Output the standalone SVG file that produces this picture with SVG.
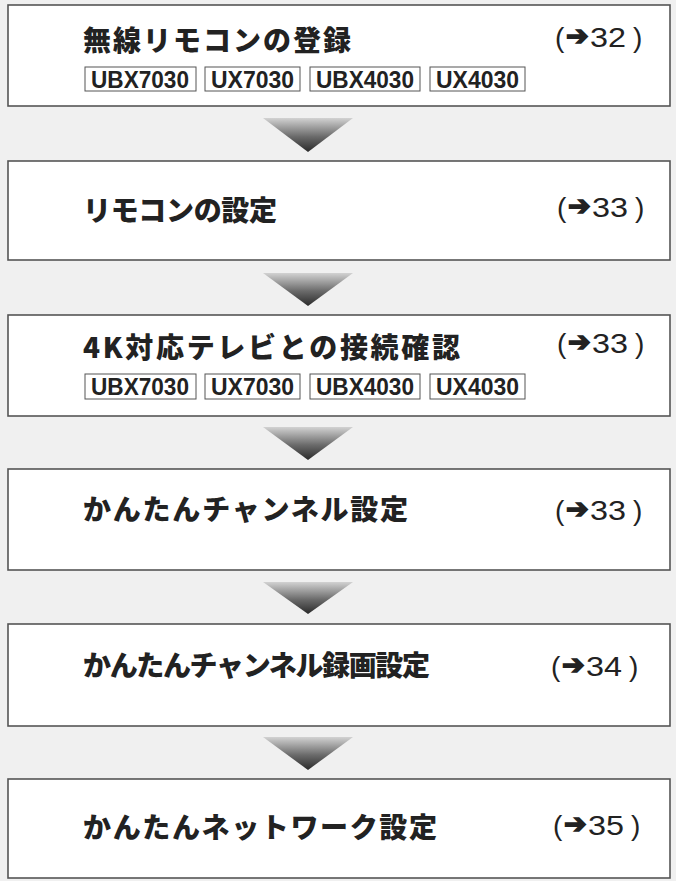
<svg xmlns="http://www.w3.org/2000/svg" width="676" height="881" viewBox="0 0 676 881">
<defs>
<linearGradient id="tri" x1="0" y1="0" x2="0" y2="1">
<stop offset="0" stop-color="#d2d2d2"/>
<stop offset="0.55" stop-color="#6a6a6a"/>
<stop offset="1" stop-color="#2a2a2a"/>
</linearGradient>
<style>
.box{fill:#ffffff;stroke:#555555;stroke-width:1.6}
.title{font-family:"Noto Sans CJK JP","Noto Sans CJK SC",sans-serif;font-weight:900;font-size:28px;fill:#222222}
.ref{font-family:"Liberation Sans",Arial,sans-serif;font-size:28px;fill:#222222}
.arr{font-family:"DejaVu Sans",sans-serif;font-weight:bold;font-size:27px;fill:#222222;stroke:#222222;stroke-width:1.6;stroke-linejoin:miter}
.tag{fill:#ffffff;stroke:#555555;stroke-width:1}
.tagt{font-family:"Liberation Sans",Arial,sans-serif;font-weight:bold;font-size:23px;fill:#222222}
.tri{fill:url(#tri)}
</style>
</defs>
<rect x="0" y="0" width="676" height="881" fill="#f0f0f0"/>

<g id="connectors">
<polygon class="tri" points="263,118 353,118 308,152"/>
<polygon class="tri" points="263,273 353,273 308,306"/>
<polygon class="tri" points="263,427 353,427 308,460"/>
<polygon class="tri" points="263,582 353,582 308,614"/>
<polygon class="tri" points="263,737 353,737 308,770"/>
</g>

<g id="node1">
<rect class="box" x="8" y="5" width="662" height="101"/>
<text class="title" x="83" y="51" textLength="268" lengthAdjust="spacing">無線リモコンの登録</text>
<g transform="translate(0,-473)">
<text class="ref" x="555" y="520">(</text>
<text class="arr" x="566" y="518">➔</text>
<text class="ref" x="590" y="520" textLength="36" lengthAdjust="spacingAndGlyphs">32</text>
<text class="ref" x="633" y="520">)</text>
</g>
<rect class="tag" x="85" y="67" width="111" height="24"/>
<text class="tagt" x="91" y="88" textLength="98" lengthAdjust="spacingAndGlyphs">UBX7030</text>
<rect class="tag" x="205" y="67" width="95" height="24"/>
<text class="tagt" x="211" y="88" textLength="83" lengthAdjust="spacingAndGlyphs">UX7030</text>
<rect class="tag" x="310" y="67" width="110" height="24"/>
<text class="tagt" x="316" y="88" textLength="98" lengthAdjust="spacingAndGlyphs">UBX4030</text>
<rect class="tag" x="430" y="67" width="95" height="24"/>
<text class="tagt" x="436" y="88" textLength="83" lengthAdjust="spacingAndGlyphs">UX4030</text>
</g>

<g id="node2">
<rect class="box" x="8" y="161" width="662" height="99"/>
<text class="title" x="83" y="221" textLength="194" lengthAdjust="spacing">リモコンの設定</text>
<g transform="translate(2,-303)">
<text class="ref" x="555" y="520">(</text>
<text class="arr" x="566" y="518">➔</text>
<text class="ref" x="590" y="520" textLength="36" lengthAdjust="spacingAndGlyphs">33</text>
<text class="ref" x="633" y="520">)</text>
</g>
</g>

<g id="node3">
<rect class="box" x="8" y="315" width="662" height="101"/>
<text class="title" x="83" y="358" textLength="377" lengthAdjust="spacing">4K対応テレビとの接続確認</text>
<g transform="translate(2,-167)">
<text class="ref" x="555" y="520">(</text>
<text class="arr" x="566" y="518">➔</text>
<text class="ref" x="590" y="520" textLength="36" lengthAdjust="spacingAndGlyphs">33</text>
<text class="ref" x="633" y="520">)</text>
</g>
<rect class="tag" x="85" y="374" width="111" height="25"/>
<text class="tagt" x="91" y="395" textLength="98" lengthAdjust="spacingAndGlyphs">UBX7030</text>
<rect class="tag" x="205" y="374" width="95" height="25"/>
<text class="tagt" x="211" y="395" textLength="83" lengthAdjust="spacingAndGlyphs">UX7030</text>
<rect class="tag" x="310" y="374" width="110" height="25"/>
<text class="tagt" x="316" y="395" textLength="98" lengthAdjust="spacingAndGlyphs">UBX4030</text>
<rect class="tag" x="430" y="374" width="95" height="25"/>
<text class="tagt" x="436" y="395" textLength="83" lengthAdjust="spacingAndGlyphs">UX4030</text>
</g>

<g id="node4">
<rect class="box" x="8" y="469" width="662" height="101"/>
<text class="title" x="83" y="520" textLength="325" lengthAdjust="spacing">かんたんチャンネル設定</text>
<g transform="translate(0,0)">
<text class="ref" x="555" y="520">(</text>
<text class="arr" x="566" y="518">➔</text>
<text class="ref" x="590" y="520" textLength="36" lengthAdjust="spacingAndGlyphs">33</text>
<text class="ref" x="633" y="520">)</text>
</g>
</g>

<g id="node5">
<rect class="box" x="8" y="624" width="662" height="102"/>
<text class="title" x="83" y="676" textLength="347" lengthAdjust="spacing">かんたんチャンネル録画設定</text>
<g transform="translate(-4,156)">
<text class="ref" x="555" y="520">(</text>
<text class="arr" x="566" y="518">➔</text>
<text class="ref" x="590" y="520" textLength="36" lengthAdjust="spacingAndGlyphs">34</text>
<text class="ref" x="633" y="520">)</text>
</g>
</g>

<g id="node6">
<rect class="box" x="8" y="779" width="662" height="99"/>
<text class="title" x="83" y="838" textLength="354" lengthAdjust="spacing">かんたんネットワーク設定</text>
<g transform="translate(-2,315)">
<text class="ref" x="555" y="520">(</text>
<text class="arr" x="566" y="518">➔</text>
<text class="ref" x="590" y="520" textLength="36" lengthAdjust="spacingAndGlyphs">35</text>
<text class="ref" x="633" y="520">)</text>
</g>
</g>
</svg>
